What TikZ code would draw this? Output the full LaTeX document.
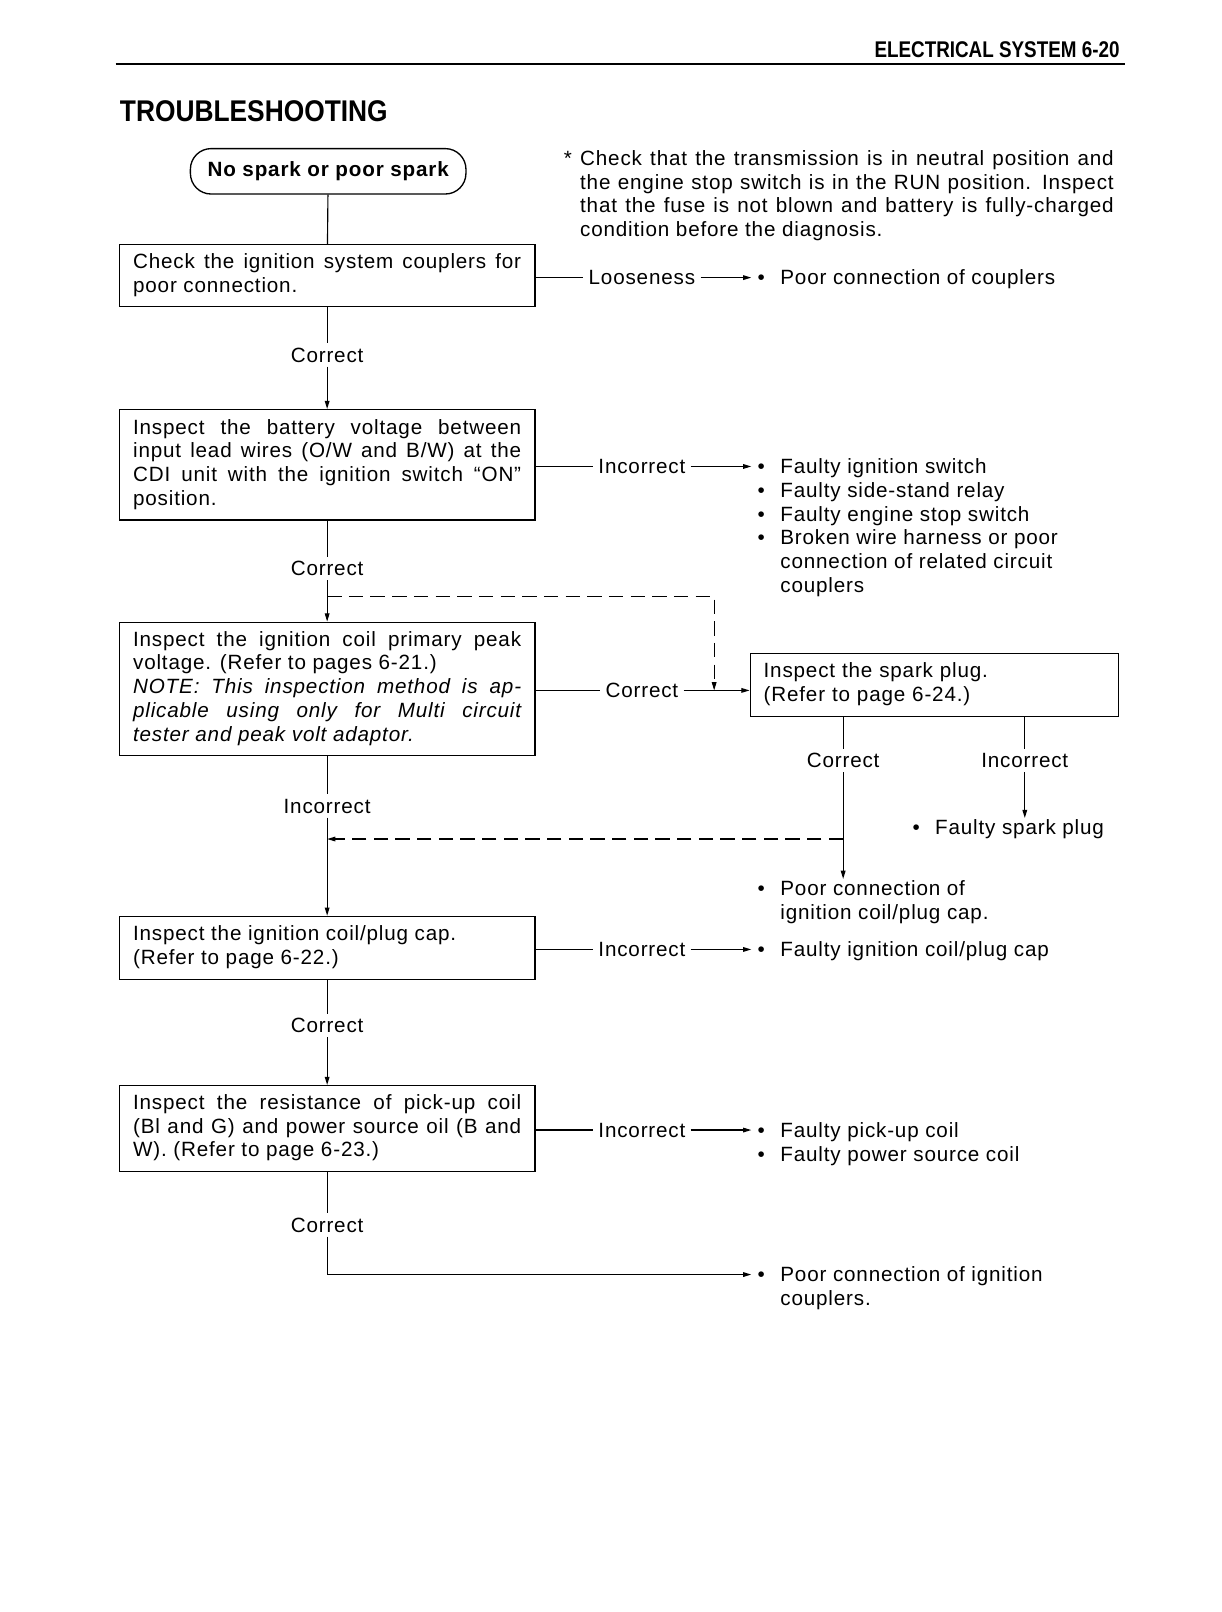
\documentclass[tikz,border=0pt]{standalone}
\usepackage{fontspec}
\usepackage{graphicx}
\setmainfont{Liberation Sans}
\newfontfamily\headfont{Liberation Sans}
\newfontfamily\bodyfont{Liberation Sans}[LetterSpace=4]
\usetikzlibrary{arrows.meta}

% bullet list of results, first row on the baseline
\newcommand{\results}[1]{\begin{tabular}[t]{@{\hspace{6pt}}l@{\hspace{15pt}}l@{}}#1\end{tabular}}

\begin{document}
\begin{tikzpicture}[
    x=1pt, y=-1pt,
    >={Triangle[length=8pt,width=4.5pt]},
    every node/.style={font=\bodyfont\fontsize{20}{23}\selectfont},
    box/.style={draw, line width=1.3pt, text width=376pt, inner xsep=13.5pt,
        align=justify, execute at begin node={\noindent\strut}, execute at end node=\strut},
    start/.style={draw, line width=1.3pt, rounded corners=20pt, minimum width=267pt,
        minimum height=44pt, font=\bodyfont\bfseries\fontsize{20}{23}\selectfont},
    lbl/.style={inner xsep=5pt, inner ysep=4pt},
    result/.style={anchor=base west, inner sep=0pt},
    link/.style={line width=1.1pt},
    back/.style={link, dash pattern=on 14pt off 7pt}
]
\fill[white] (0,0) rectangle (1184,1562);
\useasboundingbox (0,0) rectangle (1184,1562);

% page head
\node[anchor=base east, inner sep=0pt, font=\headfont\bfseries\fontsize{22}{24}\selectfont] (head) at (1085,56) {\scalebox{0.83}[1]{ELECTRICAL SYSTEM 6-20}};
\draw[line width=2.5pt] (112,62) -- (1090,62);
\node[anchor=base west, inner sep=0pt, font=\headfont\bfseries\fontsize{29}{32}\selectfont] (title) at (116,118) {\scalebox{0.88}[1]{TROUBLESHOOTING}};

\node[anchor=north west, inner sep=0pt, text width=517pt, align=justify, execute at begin node={\noindent\strut}] (note) at (562,144)
    {\llap{*\hspace{8pt}}Check that the transmission is in neutral position and\linebreak the engine stop switch is in the RUN position. Inspect\linebreak that the fuse is not blown and battery is fully-charged\linebreak condition before the diagnosis.};

% checks
\node[start] (nospark) at (318,166) {No spark or poor spark};
\node[box, minimum height=60pt] (couplers) at (317,267) {Check the ignition system couplers for\linebreak poor connection.};
\node[box, minimum height=107pt] (battery) at (317,450.5) {Inspect the battery voltage between\linebreak input lead wires (O/W and B/W) at the\linebreak CDI unit with the ignition switch “ON”\linebreak position.};
\node[box, minimum height=129pt] (primary) at (317,667.5) {Inspect the ignition coil primary peak\linebreak voltage. (Refer to pages 6-21.)\newline \textit{NOTE: This inspection method is ap-\linebreak plicable using only for Multi circuit\linebreak tester and peak volt adaptor.}};
\node[box, minimum height=61pt] (plugcap) at (317,918.5) {Inspect the ignition coil/plug cap.\newline (Refer to page 6-22.)};
\node[box, minimum height=83pt] (pickup) at (317,1093.5) {Inspect the resistance of pick-up coil\linebreak (Bl and G) and power source oil (B and\linebreak W). (Refer to page 6-23.)};
\node[draw, line width=1.3pt, text width=331pt, inner xsep=13pt, minimum height=61pt,
    execute at begin node=\strut, execute at end node=\strut] (spark) at (905.5,663.5) {Inspect the spark plug.\\(Refer to page 6-24.)};

% labels
\node[lbl] (cor1) at (317,344) {Correct};
\node[lbl] (loose) at (622,269) {Looseness};
\node[lbl] (inc2) at (622,452) {Incorrect};
\node[lbl] (cor2) at (317,551) {Correct};
\node[lbl] (cor3) at (622,669) {Correct};
\node[lbl] (inc3) at (317,781) {Incorrect};
\node[lbl] (cor5) at (817,737) {Correct};
\node[lbl] (inc5) at (993,737) {Incorrect};
\node[lbl] (inc4) at (622,920) {Incorrect};
\node[lbl] (cor4) at (317,994) {Correct};
\node[lbl] (inc6) at (622,1095) {Incorrect};
\node[lbl] (cor6) at (317,1187) {Correct};

% results
\node[result] (res1) at (728,276) {\results{\textbullet & Poor connection of couplers}};
\node[result] (res2) at (728,459) {\results{\textbullet & Faulty ignition switch\\
    \textbullet & Faulty side-stand relay\\
    \textbullet & Faulty engine stop switch\\
    \textbullet & Broken wire harness or poor\\
    & connection of related circuit\\
    & couplers}};
\node[result] (res5) at (728,868) {\results{\textbullet & Poor connection of\\ & ignition coil/plug cap.}};
\node[result] (res6) at (878,809) {\results{\textbullet & Faulty spark plug}};
\node[result] (res4) at (728,927) {\results{\textbullet & Faulty ignition coil/plug cap}};
\node[result] (res7) at (728,1102) {\results{\textbullet & Faulty pick-up coil\\ \textbullet & Faulty power source coil}};
\node[result] (res8) at (728,1242) {\results{\textbullet & Poor connection of ignition\\ & couplers.}};

% main line
\draw[link] (nospark) -- (couplers);
\draw[link] (couplers) -- (cor1);
\draw[link,->] (cor1) -- (battery);
\draw[link] (battery) -- (cor2);
\draw[link,->] (cor2) -- (primary);
\draw[link] (primary) -- (inc3);
\draw[link,->] (inc3) -- (plugcap);
\draw[link] (plugcap) -- (cor4);
\draw[link,->] (cor4) -- (pickup);
\draw[link] (pickup) -- (cor6);
\draw[link,->] (cor6) |- ([yshift=7pt]res8.base west);

% side branches
\draw[link] (loose.west -| couplers.east) -- (loose);
\draw[link,->] (loose) -- (loose.east -| res1.west);
\draw[link] (inc2.west -| battery.east) -- (inc2);
\draw[link,->] (inc2) -- (inc2.east -| res2.west);
\draw[link] (cor3.west -| primary.east) -- (cor3);
\draw[link,->] (cor3) -- (cor3.east -| spark.west);
\draw[link] (inc4.west -| plugcap.east) -- (inc4);
\draw[link,->] (inc4) -- (inc4.east -| res4.west);
\draw[link] (inc6.west -| pickup.east) -- (inc6);
\draw[link,->] (inc6) -- (inc6.east -| res7.west);

% spark plug
\draw[link] (cor5 |- spark.south) -- (cor5);
\draw[link,->] (cor5) -- (cor5 |- res5.north);
\draw[link] (inc5 |- spark.south) -- (inc5);
\draw[link,->] (inc5) -- (inc5 |- res6.north);

% dashed paths
\coordinate (fork) at (317,578);
\coordinate (meet) at (692,669);
\draw[back,->] (fork) -| (meet);
\coordinate (ret) at (817,813);
\draw[back,->] (ret) -- (ret -| inc3);
\end{tikzpicture}
\end{document}
